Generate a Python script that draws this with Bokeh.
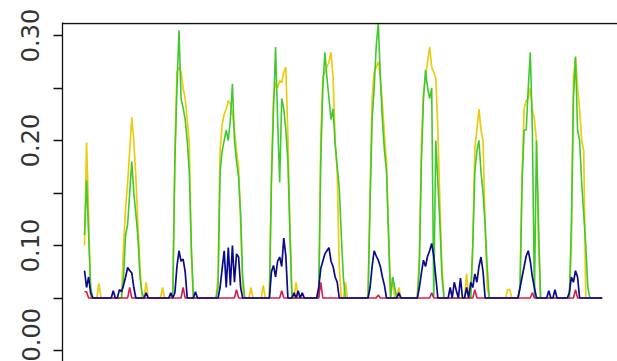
from bokeh.plotting import figure
from bokeh.models import ColumnDataSource, FixedTicker, Span, Range1d, PrintfTickFormatter
from bokeh.embed import file_html
from bokeh.resources import INLINE

# hourly readings (index = hour since start)
hours = list(range(253))

yellow = [
    .1, .198, .13, .05, .05, .05, .05, .064, .05, .05, .05, .05, .05, .05, .05, .05, .05, .05, .05, .1, .135, .16, .19, .222,
    .2, .165, .12, .08, .05, .05, .065, .05, .05, .05, .05, .05, .05, .05, .06, .05, .05, .05, .05, .055, .19, .265, .27, .265,
    .25, .24, .22, .197, .09, .05, .05, .05, .05, .05, .05, .05, .05, .05, .05, .05, .05, .07, .19, .215, .225, .23, .238, .235,
    .225, .21, .19, .175, .12, .06, .05, .05, .05, .06, .05, .05, .05, .05, .05, .062, .05, .05, .05, .17, .24, .255, .25, .257,
    .255, .265, .27, .203, .12, .05, .05, .065, .05, .05, .05, .05, .05, .05, .05, .05, .05, .05, .05, .2, .26, .265, .27, .275,
    .284, .26, .2, .17, .08, .05, .05, .065, .05, .05, .05, .05, .05, .05, .05, .05, .05, .05, .05, .15, .24, .265, .27, .275,
    .26, .235, .205, .18, .11, .05, .07, .05, .05, .06, .05, .05, .05, .05, .05, .05, .05, .05, .05, .09, .197, .245, .26, .275,
    .289, .27, .265, .26, .21, .14, .08, .05, .05, .05, .05, .05, .05, .05, .05, .05, .05, .05, .073, .05, .05, .1, .193, .21,
    .23, .21, .2, .12, .06, .05, .05, .05, .05, .05, .05, .05, .05, .05, .058, .058, .05, .05, .05, .05, .06, .17, .23, .238,
    .24, .25, .23, .22, .2, .1, .05, .05, .05, .05, .05, .05, .05, .05, .05, .05, .05, .05, .05, .05, .05, .1, .26, .279,
    .25, .23, .2, .19, .05, .05, .05, .05, .05, .05, .05, .05, .05,
]

green_by_day = [
    [.11, .162, .11, .06,
     .05, .05, .05, .05, .05,
     .05, .05, .05, .05, .05,
     .05, .05, .05, .05, .05,
     .07, .11, .12, .15, .18],
    [.15, .13, .108, .07, .055,
     .05, .05, .05, .05, .05,
     .05, .05, .05, .05, .05,
     .05, .05, .05, .05,
     .055, .18, .25, .305, .24],
    [.231, .22, .2, .17, .1,
     .05, .05, .05, .05, .05,
     .05, .05, .05, .05, .05,
     .05, .05,
     .06, .17, .19, .2, .21, .2, .22],
    [.254, .2, .18, .165, .13, .07,
     .05, .05, .05, .05, .05,
     .05, .05, .05, .05, .05,
     .05, .05, .05,
     .16, .23, .289, .22, .16],
    [.24, .23, .21, .18, .11,
     .05, .05, .05, .05, .05,
     .05, .05, .05, .05, .05,
     .05, .05, .05, .05,
     .18, .25, .284, .26, .24],
    [.22, .23, .197, .175, .155, .11, .07,
     .05, .05, .05, .05, .05,
     .05, .05, .05, .05, .05,
     .05, .05,
     .14, .22, .25, .29, .312],
    [.26, .219, .19, .171, .11, .05, .07, .06,
     .05, .05, .05, .05, .05,
     .05, .05, .05, .05, .05,
     .05,
     .08, .18, .24, .267, .25],
    [.24, .25, .05, .2, .16, .12, .07,
     .05, .05, .05, .05, .05,
     .05, .05, .05, .05, .05,
     .05, .05, .05, .05,
     .1, .17, .19],
    [.2, .17, .15, .12, .08,
     .05, .05, .05, .05, .05,
     .05, .05, .05, .05, .05,
     .05, .05, .05, .05, .05,
     .06, .16, .21, .21],
    [.25, .284, .21, .05, .2, .12,
     .05, .05, .05, .05, .05,
     .05, .05, .05, .05, .05,
     .05, .05, .05, .05, .05,
     .12, .24, .28],
    [.21, .2, .16, .13, .1, .06,
     .05, .05, .05, .05, .05,
     .05, .05],
]
green = [v for day in green_by_day for v in day]

blue = [
    .076, .06, .07, .055, .05, .05, .05, .05, .05, .05, .05, .05, .05, .05, .057, .05, .05, .058, .056, .062, .07, .079, .076, .074,
    .06, .05, .05, .05, .05, .05, .055, .05, .05, .05, .05, .05, .05, .05, .05, .05, .05, .05, .055, .05, .055, .08, .095, .085,
    .087, .075, .05, .05, .05, .05, .056, .05, .05, .05, .05, .05, .05, .05, .05, .05, .05, .05, .06, .078, .095, .06, .098, .062,
    .1, .065, .092, .089, .06, .05, .05, .05, .05, .05, .05, .05, .05, .05, .05, .05, .05, .05, .05, .075, .081, .07, .085, .089,
    .08, .107, .09, .05, .05, .05, .055, .05, .057, .05, .055, .05, .05, .05, .05, .05, .05, .05, .06, .078, .085, .092, .095, .098,
    .085, .08, .07, .065, .05, .05, .05, .05, .05, .05, .05, .05, .05, .05, .05, .05, .05, .05, .05, .06, .08, .095, .09, .086,
    .08, .07, .062, .05, .05, .05, .05, .05, .05, .055, .05, .05, .05, .05, .05, .05, .05, .05, .05, .06, .074, .086, .08, .09,
    .095, .102, .09, .07, .05, .05, .05, .05, .05, .05, .06, .05, .065, .057, .05, .069, .05, .05, .06, .05, .065, .06, .073, .065,
    .08, .089, .075, .05, .05, .05, .05, .05, .05, .05, .05, .05, .05, .05, .05, .05, .05, .05, .05, .05, .06, .07, .08, .09,
    .095, .085, .07, .06, .05, .05, .05, .05, .05, .05, .057, .05, .05, .058, .05, .05, .05, .05, .05, .05, .055, .07, .065, .076,
    .07, .05, .05, .05, .05, .05, .05, .05, .05, .05, .05, .05, .05,
]

red = [
    .056, .056, .05, .05, .05, .05, .05, .05, .05, .05, .05, .05, .05, .05, .05, .05, .05, .05, .05, .05, .05, .05, .06, .05,
    .05, .05, .05, .05, .05, .05, .05, .05, .05, .05, .05, .05, .05, .05, .05, .05, .05, .05, .05, .05, .05, .05, .05, .05,
    .06, .05, .05, .05, .05, .05, .05, .05, .05, .05, .05, .05, .05, .05, .05, .05, .05, .05, .05, .05, .05, .05, .05, .05,
    .05, .05, .058, .05, .05, .05, .05, .05, .05, .05, .05, .05, .05, .05, .05, .05, .05, .05, .05, .05, .05, .05, .05, .05,
    .057, .05, .05, .05, .05, .05, .05, .05, .05, .05, .05, .05, .05, .05, .05, .05, .05, .05, .05, .065, .05, .05, .05, .05,
    .05, .05, .05, .05, .05, .05, .05, .05, .05, .05, .05, .05, .05, .05, .05, .05, .05, .05, .05, .05, .05, .05, .05, .053,
    .05, .05, .05, .05, .05, .05, .05, .05, .05, .05, .05, .05, .05, .05, .05, .05, .05, .05, .05, .05, .05, .05, .05, .05,
    .05, .055, .05, .05, .05, .05, .05, .05, .05, .05, .05, .05, .05, .05, .05, .05, .05, .05, .05, .05, .05, .05, .058, .05,
    .05, .05, .05, .05, .05, .05, .05, .05, .05, .05, .05, .05, .05, .05, .05, .05, .05, .05, .05, .05, .05, .05, .05, .05,
    .05, .05, .055, .05, .05, .05, .05, .05, .05, .05, .05, .05, .05, .05, .05, .05, .05, .05, .05, .05, .05, .05, .05, .058,
    .05, .05, .05, .05, .05, .05, .05, .05, .05, .05, .05, .05, .05,
]

y_ticks = [0.0, 0.1, 0.2, 0.3]
y_minor = [0.05, 0.15, 0.25]

bad = [f"{n}={len(s)}" for n, s in (("yellow", yellow), ("green", green), ("blue", blue), ("red", red)) if len(s) != len(hours)]
if bad:
    raise ValueError("length mismatch: " + ", ".join(bad))

src = ColumnDataSource(dict(hour=hours, yellow=yellow, green=green, blue=blue, red=red))

p = figure(width=617, height=361, output_backend="svg", toolbar_location=None,
           x_axis_location=None,
           x_range=Range1d(-10.71, 259.44), y_range=Range1d(-0.010476, 0.312381),
           min_border_left=62, min_border_top=22, min_border_right=0, min_border_bottom=0)
p.outline_line_color = None
p.grid.visible = False
p.background_fill_color = "white"
p.border_fill_color = "white"

ax = p.yaxis[0]
ax.ticker = FixedTicker(ticks=y_ticks, minor_ticks=y_minor)
ax.formatter = PrintfTickFormatter(format="%.2f")
ax.axis_line_color = "#111111"
ax.axis_line_width = 1.3
ax.major_tick_line_color = "#111111"
ax.minor_tick_line_color = "#111111"
ax.major_tick_line_width = 1.3
ax.minor_tick_line_width = 1.3
ax.major_tick_out = 9
ax.major_tick_in = 0
ax.minor_tick_out = 9
ax.minor_tick_in = 0
ax.major_label_orientation = "vertical"
ax.major_label_standoff = 14
ax.major_label_text_font = "DejaVu Sans"
ax.major_label_text_font_size = "24px"
ax.major_label_text_color = "#333333"

p.line("hour", "yellow", source=src, line_color="#EDCB10", line_width=1.7)
p.line("hour", "green", source=src, line_color="#3FC92E", line_width=1.6)
p.line("hour", "red", source=src, line_color="#D02050", line_width=1.6)
p.line("hour", "blue", source=src, line_color="#0A0A8A", line_width=1.7)

p.add_layout(Span(location=0.31143, dimension="width", line_color="#111111", line_width=1.3))

open("out.html", "w").write(file_html(p, INLINE))
